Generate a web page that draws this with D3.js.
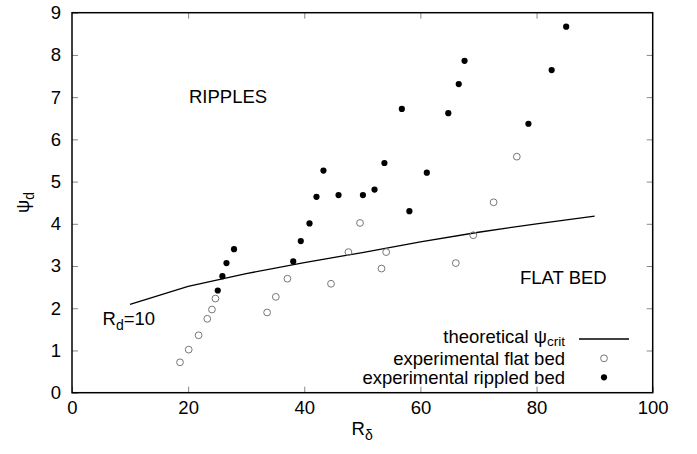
<!DOCTYPE html>
<html>
<head>
<meta charset="utf-8">
<script src="https://cdn.jsdelivr.net/npm/d3@7"></script>
<style>
  body { margin: 0; background: #fff; }
  svg text { font-family: "Liberation Sans", Arial, Helvetica, sans-serif; fill: #000; }
</style>
</head>
<body>
<svg id="chart" width="697" height="454"></svg>
<script>
// Critical Shields curve (R_d = 10), evaluated at these R_delta values
const critR = [10, 20, 30, 40, 50, 60, 70, 80, 90];
const critPsi = [2.09, 2.52, 2.82, 3.08, 3.32, 3.57, 3.80, 4.00, 4.18];

// Experiments that stayed flat
const flatR = [18.6, 20.1, 21.8, 23.3, 24.1, 24.7, 33.6, 35.1, 37.1, 44.6, 47.6, 49.6, 53.3, 54.1, 66.1, 69.1, 72.6, 76.6];
const flatPsi = [0.72, 1.02, 1.36, 1.75, 1.97, 2.23, 1.90, 2.27, 2.70, 2.58, 3.33, 4.02, 2.94, 3.33, 3.07, 3.73, 4.51, 5.59];

// Experiments that developed ripples
const rippleR = [25.1, 25.9, 26.6, 27.9, 38.1, 39.4, 40.9, 42.1, 43.3, 45.9, 50.1, 52.1, 53.8, 56.8, 58.1, 61.1, 64.8, 66.6, 67.6, 78.6, 82.6, 85.1];
const ripplePsi = [2.42, 2.76, 3.07, 3.40, 3.11, 3.59, 4.01, 4.64, 5.26, 4.68, 4.68, 4.81, 5.44, 6.72, 4.30, 5.21, 6.62, 7.31, 7.86, 6.37, 7.64, 8.67];

const xTicks = [0, 20, 40, 60, 80, 100];
const yTicks = [0, 1, 2, 3, 4, 5, 6, 7, 8, 9];

const svg = d3.select("#chart");
const plotL = 72, plotR = 652.7, plotT = 12.7, plotB = 392.7;
const FS = 18.5;

const x = d3.scaleLinear().domain([0, 100]).range([plotL, plotR]);
const y = d3.scaleLinear().domain([0, 9]).range([plotB, plotT]);

function styleAxis(g, hideText) {
  g.select(".domain").remove();
  g.selectAll(".tick line").attr("stroke", "#888").attr("stroke-width", 1);
  g.selectAll(".tick text").style("font-size", FS + "px").attr("fill", "#000");
  if (hideText) g.selectAll(".tick text").remove();
}

// bottom axis with labels, ticks pointing inward
svg.append("g").attr("transform", `translate(0,${plotB})`)
  .call(d3.axisBottom(x).tickValues(xTicks).tickSizeInner(-6).tickSizeOuter(0).tickPadding(8))
  .call(g => styleAxis(g, false));
// top mirror ticks
svg.append("g").attr("transform", `translate(0,${plotT})`)
  .call(d3.axisTop(x).tickValues(xTicks.slice(1, -1)).tickSizeInner(-6).tickSizeOuter(0))
  .call(g => styleAxis(g, true));
// left axis with labels
svg.append("g").attr("transform", `translate(${plotL},0)`)
  .call(d3.axisLeft(y).tickValues(yTicks).tickSizeInner(-6).tickSizeOuter(0).tickPadding(11))
  .call(g => styleAxis(g, false));
// right mirror ticks
svg.append("g").attr("transform", `translate(${plotR},0)`)
  .call(d3.axisRight(y).tickValues(yTicks.slice(1, -1)).tickSizeInner(-6).tickSizeOuter(0))
  .call(g => styleAxis(g, true));

// plot border
svg.append("rect")
  .attr("x", plotL).attr("y", plotT)
  .attr("width", plotR - plotL).attr("height", plotB - plotT)
  .attr("fill", "none").attr("stroke", "#000").attr("stroke-width", 1.5);

// theoretical curve
const line = d3.line().x((d, i) => x(critR[i])).y(d => y(d));
svg.append("path")
  .datum(critPsi)
  .attr("d", line)
  .attr("fill", "none").attr("stroke", "#000").attr("stroke-width", 1.3);

// flat bed points
svg.append("g").selectAll("circle")
  .data(flatPsi)
  .join("circle")
  .attr("cx", (d, i) => x(flatR[i]))
  .attr("cy", d => y(d))
  .attr("r", 3.4)
  .attr("fill", "none").attr("stroke", "#777").attr("stroke-width", 1);

// rippled bed points
svg.append("g").selectAll("circle")
  .data(ripplePsi)
  .join("circle")
  .attr("cx", (d, i) => x(rippleR[i]))
  .attr("cy", d => y(d))
  .attr("r", 3.1)
  .attr("fill", "#000");

// region labels
svg.append("text").attr("x", 189).attr("y", 103).style("font-size", FS + "px").text("RIPPLES");
svg.append("text").attr("x", 520).attr("y", 284).style("font-size", FS + "px").text("FLAT BED");

const rd = svg.append("text").attr("x", 102.5).attr("y", 325).style("font-size", FS + "px");
rd.append("tspan").text("R");
rd.append("tspan").attr("dy", 5).style("font-size", "14px").text("d");
rd.append("tspan").attr("dy", -5).text("=10");

// axis titles
const xl = svg.append("text").attr("x", 351.5).attr("y", 435).style("font-size", FS + "px");
xl.append("tspan").text("R");
xl.append("tspan").attr("dy", 5).style("font-size", "14px").text("δ");

const yl = svg.append("text").attr("transform", "translate(29,213) rotate(-90)").style("font-size", FS + "px");
yl.append("tspan").text("ψ");
yl.append("tspan").attr("dy", 5).style("font-size", "14px").text("d");

// legend
const legRight = 565;
const lg = svg.append("g");
const t1 = lg.append("text").attr("x", legRight).attr("y", 342.5).attr("text-anchor", "end").style("font-size", FS + "px");
t1.append("tspan").text("theoretical ψ");
t1.append("tspan").attr("dy", 3.5).style("font-size", "13.5px").text("crit");
lg.append("line").attr("x1", 579).attr("x2", 629).attr("y1", 339).attr("y2", 339)
  .attr("stroke", "#000").attr("stroke-width", 1.3);

lg.append("text").attr("x", legRight).attr("y", 365).attr("text-anchor", "end").style("font-size", FS + "px")
  .text("experimental flat bed");
lg.append("circle").attr("cx", 604).attr("cy", 358.3).attr("r", 3.4)
  .attr("fill", "none").attr("stroke", "#777").attr("stroke-width", 1);

lg.append("text").attr("x", legRight).attr("y", 383.5).attr("text-anchor", "end").style("font-size", FS + "px")
  .text("experimental rippled bed");
lg.append("circle").attr("cx", 604).attr("cy", 377.3).attr("r", 3.1).attr("fill", "#000");
</script>
</body>
</html>
